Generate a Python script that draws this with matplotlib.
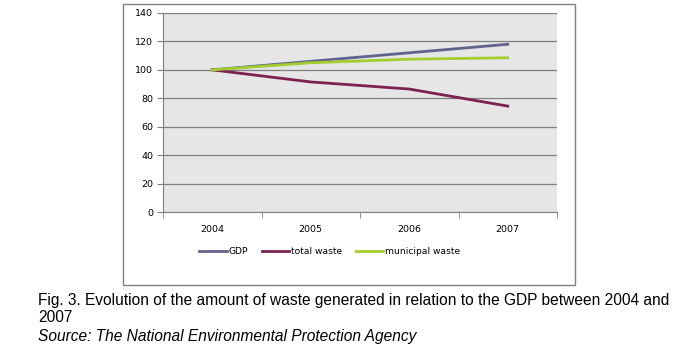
import matplotlib.pyplot as plt
from matplotlib.patches import Rectangle

# donnees (indice 2004 = 100)
annees = ["2004", "2005", "2006", "2007"]
gdp = [100, 106, 112, 118]
total_waste = [100, 91.5, 86.5, 74.5]
municipal_waste = [100, 105, 107.5, 108.5]

fig = plt.figure(figsize=(6.98, 3.48), dpi=100)
W, H = 698, 348

# cadre exterieur du graphique
fig.patches.append(Rectangle((123 / W, 1 - 285 / H), (575 - 123) / W, (285 - 4) / H,
                             transform=fig.transFigure, fill=False,
                             edgecolor="#808080", linewidth=1))

ax = fig.add_axes([163 / W, 1 - 212 / H, (557 - 163) / W, (212 - 13) / H])
ax.set_facecolor("#e6e6e6")

x = range(len(annees))
ax.plot(x, gdp, color="#62628f", linewidth=2, label="GDP")
ax.plot(x, total_waste, color="#7d2250", linewidth=2, label="total waste")
ax.plot(x, municipal_waste, color="#a2cd2c", linewidth=2, label="municipal waste")

ax.set_xlim(-0.5, 3.5)
ax.set_ylim(0, 140)
ax.set_yticks(range(0, 141, 20))
ax.yaxis.grid(True, color="#808080", linewidth=0.9)
ax.set_axisbelow(True)

ax.set_xticks(list(x))
ax.set_xticklabels(annees)
ax.set_xticks([-0.5, 0.5, 1.5, 2.5, 3.5], minor=True)
ax.tick_params(axis="x", which="major", length=0, pad=9, labelsize=6.8)
ax.tick_params(axis="x", which="minor", length=4, color="#808080")
ax.tick_params(axis="y", length=4, color="#808080", labelsize=6.8, pad=3)

for s in ["top", "right"]:
    ax.spines[s].set_visible(False)
for s in ["left", "bottom"]:
    ax.spines[s].set_color("#808080")

ax.legend(loc="center", bbox_to_anchor=(0.423, -0.2), ncol=3, frameon=False,
          fontsize=6.6, handlelength=3.0, columnspacing=1.5, handletextpad=0.2)

fig.text(38 / W, 1 - 301 / H,
         "Fig. 3. Evolution of the amount of waste generated in relation to the GDP between 2004 and",
         fontsize=11.2, family="Liberation Sans", va="center")
fig.text(38 / W, 1 - 318 / H, "2007", fontsize=11.2, family="Liberation Sans", va="center")
fig.text(38 / W, 1 - 336 / H, "Source: The National Environmental Protection Agency",
         fontsize=11.2, family="Liberation Sans", style="italic", va="center")

fig.savefig("out.png", dpi=100)
